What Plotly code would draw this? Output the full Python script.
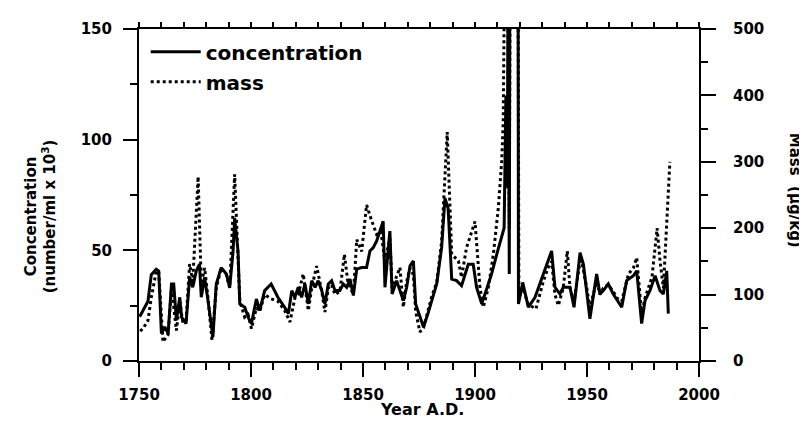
import plotly.graph_objects as go

# ---- data ----
conc_years = [1750.3, 1754, 1755.5, 1757.7, 1758.8, 1760, 1761.5, 1763, 1764.5, 1765.5,
              1766.7, 1768.2, 1769, 1771, 1772.6, 1774, 1775.6, 1777, 1777.8, 1779.3,
              1780.8, 1783, 1784.5, 1786.7, 1789, 1790.5, 1792, 1792.7, 1794.2, 1795,
              1797.2, 1798.7, 1800.2, 1802.4, 1803.9, 1806.1, 1809, 1812, 1815, 1816.7,
              1818.2, 1819.6, 1821.1, 1822.6, 1824.1, 1825.6, 1827.1, 1828.6, 1830, 1831.6,
              1833, 1834.5, 1836, 1837.5, 1839.7, 1841.2, 1842.7, 1844.2, 1845.7, 1847.2,
              1849.4, 1851.6, 1853.1, 1854.6, 1856.1, 1859, 1859.8, 1862, 1863, 1865,
              1866.5, 1868, 1869.5, 1871, 1872.5, 1873.5, 1877, 1879, 1882.9, 1885.1,
              1886.6, 1888, 1889.6, 1891.8, 1894, 1895.5, 1897, 1899.2, 1900.7, 1903,
              1907.4, 1909.7, 1911.9, 1913, 1913.8, 1914.4, 1914.8, 1915.3, 1916, 1919,
              1919.4, 1921.3, 1923.8, 1926.8, 1930.5, 1934.2, 1935.7, 1937.9, 1939.4, 1942.4,
              1944.2, 1946.9, 1948.4, 1949.9, 1951.3, 1954.3, 1955.8, 1957.3, 1959.5, 1961.7,
              1963.3, 1965.5, 1967.7, 1970.7, 1972.2, 1974.4, 1975.9, 1978.1, 1980.4, 1982.6,
              1984.1, 1985.6, 1986.3]
conc_values = [20, 27, 39, 41.5, 40.7, 12.4, 15.4, 12.4, 34.8, 34.8,
               18.4, 28.8, 19.8, 16.9, 37.8, 33.3, 40.8, 43.7, 28.8, 37.8,
               27.3, 10.9, 34.8, 42.2, 39.3, 33.3, 49.7, 64.6, 49.7, 25.8,
               24.3, 19.8, 16.9, 28, 22.8, 31.8, 34.8, 28.8, 24.3, 21.4,
               31.8, 28.8, 33.3, 28.8, 34.8, 25.8, 36.3, 33.3, 36.3, 31.8,
               25.8, 34.8, 36.3, 31.8, 31.8, 34.8, 33.3, 37, 29.6, 41.5,
               42.2, 42.2, 49.7, 51.2, 54.2, 63.1, 33.3, 58.7, 30.3, 36.3,
               31.8, 27.3, 33.3, 43, 45.2, 25.8, 15.4, 21.4, 34.8, 51.2,
               73.6, 69, 37, 36.3, 34, 39.3, 43.7, 43.7, 33.3, 25.8,
               39.3, 48.2, 55.6, 60.1, 119.9, 78, 180, 39.3, 400, 400,
               25.8, 35.5, 24.3, 28.8, 39.3, 49.7, 33.3, 30.3, 33.3, 33.3,
               24.3, 48.9, 43.7, 31.8, 19.1, 39.3, 30.3, 31.8, 34.8, 30.3,
               28, 24.3, 36.3, 38.5, 40.7, 16.9, 27.3, 31.8, 38.5, 31.8,
               30.3, 40.7, 21.4]

mass_years = [1750.5, 1751.8, 1754, 1755.5, 1757.7, 1758.8, 1760.7, 1763, 1764.5, 1766.7,
              1768.2, 1769.5, 1771, 1772.6, 1774, 1776.4, 1777.8, 1779.3, 1780.8, 1782.6,
              1784.5, 1786.7, 1789, 1790.5, 1792.7, 1794.2, 1795, 1797.2, 1798.7, 1800.2,
              1802.4, 1803.9, 1806.1, 1809, 1812, 1815, 1817.4, 1819.6, 1821.1, 1823.3,
              1825.6, 1827.1, 1829.3, 1831.6, 1833, 1834.5, 1836, 1837.5, 1839.7, 1841.7,
              1843.2, 1845.7, 1847.2, 1849.4, 1851.6, 1853.5, 1856.1, 1858, 1859.8, 1862,
              1863, 1866.5, 1868, 1869.5, 1871, 1872.5, 1873.5, 1875.4, 1877, 1880.6,
              1883, 1885.1, 1887.6, 1889.6, 1892.6, 1894, 1896.2, 1900, 1902.2, 1903.7,
              1906, 1908.2, 1910.4, 1911.9, 1912.6, 1914, 1915.3, 1916, 1919, 1919.6,
              1921.3, 1923.8, 1927.2, 1930.5, 1932.7, 1934.2, 1935.7, 1937.2, 1939.4, 1941.2,
              1942.4, 1944.2, 1946.9, 1947.6, 1949.9, 1951.3, 1954.3, 1955.8, 1957.3, 1959.5,
              1961.7, 1963.3, 1965.5, 1968.5, 1970.7, 1972.2, 1974.4, 1975.9, 1979, 1981.3,
              1982.6, 1984.1, 1987]
mass_values = [45, 48.8, 61, 96, 135, 135, 28.8, 40, 110, 46,
               90, 60, 60, 146, 120, 277.6, 116, 140, 95, 31,
               110, 140, 130, 110, 281, 150.7, 90, 66, 70, 48.8,
               80, 75, 100, 93.6, 90, 76, 58.7, 95, 100, 131,
               76, 110, 143, 105, 73.6, 110, 115, 100, 105, 160.7,
               120, 100, 183, 165, 235, 215, 190.6, 195, 150, 185,
               110, 140.7, 81, 120, 140, 130, 75, 43.7, 50, 96,
               120, 180, 344.8, 160.7, 150.7, 126, 170.6, 210, 111, 81,
               111, 161, 230, 300, 360, 900, 200, 900, 900, 95,
               110, 85, 78.6, 120, 141, 150, 100, 83.6, 110, 165.7,
               110, 90, 150, 150.7, 110, 80, 120, 100, 110, 115,
               105, 95, 90, 131, 140, 155.6, 70, 95, 126, 200,
               150.7, 110, 300]

x_range = [1750, 2000]
conc_range = [0, 150]
mass_range = [0, 500]

FONT = "DejaVu Sans"
tickfont = dict(family=FONT, size=15, color="black", weight="bold")

fig = go.Figure()
fig.add_trace(go.Scatter(x=conc_years, y=conc_values, mode="lines", name="concentration",
                         legendgroup="a",
                         line=dict(color="black", width=3), yaxis="y"))
fig.add_trace(go.Scatter(x=mass_years, y=mass_values, mode="lines", name="mass",
                         legendgroup="b",
                         line=dict(color="black", width=3, dash="dot"), yaxis="y2"))
# invisible trace that activates the top tick axis
fig.add_trace(go.Scatter(x=x_range, y=conc_range, xaxis="x2", yaxis="y",
                         mode="lines", line=dict(width=0), opacity=0, showlegend=False,
                         hoverinfo="skip"))

# the page has an 8px body margin, so the figure is 8px smaller than the window
fig.update_layout(
    width=799, height=417,
    margin=dict(l=131, r=108, t=18, b=64),
    paper_bgcolor="white", plot_bgcolor="white",
    showlegend=True,
    legend=dict(x=0.012, y=0.99, xanchor="left", yanchor="top",
                font=dict(family=FONT, size=20, color="black", weight="bold"),
                itemwidth=50, tracegroupgap=1, traceorder="grouped",
                bgcolor="rgba(0,0,0,0)"),
    xaxis=dict(range=x_range, showgrid=False, zeroline=False,
               showline=True, linecolor="black", linewidth=2, mirror=True,
               ticks="outside", tickmode="linear", tick0=1750, dtick=50,
               ticklen=14, tickwidth=2, tickcolor="black",
               minor=dict(ticks="outside", dtick=10, ticklen=7, tickwidth=2, tickcolor="black"),
               tickfont=tickfont, ticklabelstandoff=5),
    xaxis2=dict(range=x_range, overlaying="x", side="top", showgrid=False, zeroline=False,
                showticklabels=False, ticks="outside", tickmode="linear", tick0=1750, dtick=10,
                ticklen=6, tickwidth=2, tickcolor="black"),
    yaxis=dict(range=conc_range, showgrid=False, zeroline=False,
               showline=True, linecolor="black", linewidth=2,
               ticks="outside", tickmode="linear", tick0=0, dtick=50,
               ticklen=14, tickwidth=2, tickcolor="black",
               minor=dict(ticks="outside", dtick=25, ticklen=7, tickwidth=2, tickcolor="black"),
               tickfont=tickfont, ticklabelstandoff=8),
    yaxis2=dict(range=mass_range, overlaying="y", side="right", showgrid=False, zeroline=False,
                showline=True, linecolor="black", linewidth=2,
                ticks="outside", tickmode="linear", tick0=0, dtick=100,
                ticklen=15, tickwidth=2, tickcolor="black",
                minor=dict(ticks="outside", dtick=50, ticklen=7, tickwidth=2, tickcolor="black"),
                tickfont=tickfont, ticklabelstandoff=14),
)

fig.add_annotation(text="Concentration<br>(number/ml x 10<sup>3</sup>)",
                   xref="paper", yref="paper", x=-0.175, y=0.436,
                   xanchor="center", yanchor="middle", textangle=-90, showarrow=False,
                   font=dict(family=FONT, size=15, color="black", weight="bold"))
fig.add_annotation(text="Mass  (µg/kg)",
                   xref="paper", yref="paper", x=1.172, y=0.515,
                   xanchor="center", yanchor="middle", textangle=90, showarrow=False,
                   font=dict(family=FONT, size=15, color="black", weight="bold"))
fig.add_annotation(text="Year A.D.",
                   xref="paper", yref="paper", x=0.505, y=-0.145,
                   xanchor="center", yanchor="middle", showarrow=False,
                   font=dict(family=FONT, size=16, color="black", weight="bold"))

fig.write_html("out.html")
